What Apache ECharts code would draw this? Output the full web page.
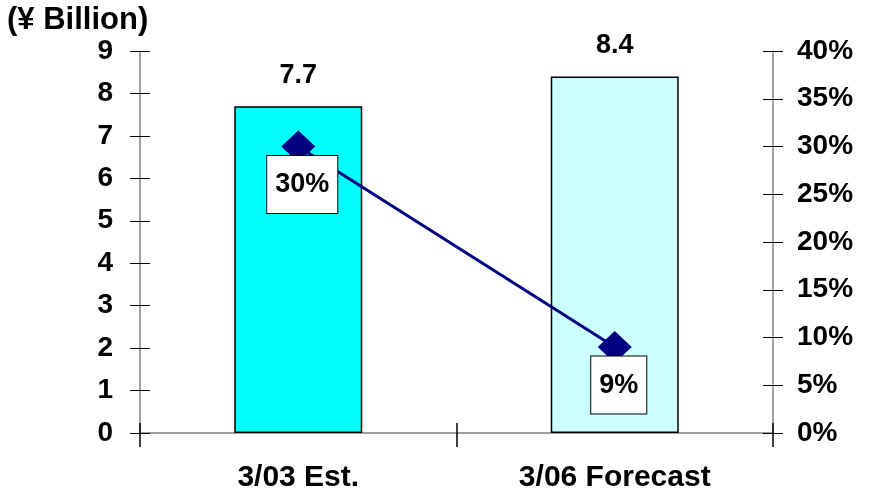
<!DOCTYPE html>
<html>
<head>
<meta charset="utf-8">
<script src="https://cdn.jsdelivr.net/npm/echarts@6/dist/echarts.min.js"></script>
<style>
    html, body { margin: 0; padding: 0; background: #fff; }
    #chart { width: 875px; height: 497px; }
</style>
</head>
<body>
<div id="chart"></div>
<script>
// 数据
const categories = ['3/03 Est.', '3/06 Forecast'];
const salesValues = [7.7, 8.4];
const shareValues = [30, 9];
const barColors = ['#00FFFF', '#CCFFFF'];

const font = 'Liberation Sans, Arial, sans-serif';
const labelStyle = {
    color: '#000',
    fontSize: 28,
    fontWeight: 'bold',
    fontFamily: font
};

const eChart = echarts.init(document.getElementById('chart'));
const option = {
    animation: false,
    grid: {
        left: 140,
        right: 102,
        top: 51,
        bottom: 64
    },
    graphic: [
        {
            type: 'text',
            left: 7,
            top: 5,
            style: {
                text: '(¥ Billion)',
                fill: '#000',
                font: 'bold 31px ' + font
            }
        }
    ],
    xAxis: [
        {
            type: 'category',
            data: categories,
            axisLine: { lineStyle: { color: '#808080', width: 1.5 } },
            axisTick: { show: true, interval: 0, length: 14, lineStyle: { color: '#000', width: 1.5 } },
            axisLabel: Object.assign({}, labelStyle, { margin: 30, fontSize: 30 })
        },
        {
            // 刻度穿过轴线
            type: 'category',
            data: categories,
            position: 'bottom',
            axisLine: { show: false },
            axisTick: { show: true, interval: 0, inside: true, length: 10, lineStyle: { color: '#000', width: 1.5 } },
            axisLabel: { show: false }
        }
    ],
    yAxis: [
        {
            type: 'value',
            min: 0,
            max: 9,
            interval: 1,
            splitLine: { show: false },
            axisLine: { show: true, lineStyle: { color: '#808080', width: 1.5 } },
            axisTick: { show: true, length: 10, lineStyle: { color: '#000' } },
            axisLabel: Object.assign({}, labelStyle, { margin: 27 })
        },
        {
            type: 'value',
            min: 0,
            max: 40,
            interval: 5,
            position: 'right',
            splitLine: { show: false },
            axisLine: { show: true, lineStyle: { color: '#808080', width: 1.5 } },
            axisTick: { show: true, length: 10, lineStyle: { color: '#000' } },
            axisLabel: Object.assign({}, labelStyle, { margin: 24, formatter: '{value}%' })
        },
        {
            type: 'value',
            min: 0,
            max: 9,
            interval: 1,
            position: 'left',
            splitLine: { show: false },
            axisLine: { show: false },
            axisTick: { show: true, inside: true, length: 10, lineStyle: { color: '#000' } },
            axisLabel: { show: false }
        },
        {
            type: 'value',
            min: 0,
            max: 40,
            interval: 5,
            position: 'right',
            splitLine: { show: false },
            axisLine: { show: false },
            axisTick: { show: true, inside: true, length: 10, lineStyle: { color: '#000' } },
            axisLabel: { show: false }
        }
    ],
    series: [
        {
            name: 'Sales',
            type: 'bar',
            barWidth: 128,
            data: salesValues.map((v, i) => ({
                value: v,
                itemStyle: { color: barColors[i] }
            })),
            itemStyle: {
                borderColor: '#000',
                borderWidth: 1.5
            },
            label: Object.assign({}, labelStyle, {
                show: true,
                position: 'top',
                distance: 17,
                fontSize: 27
            })
        },
        {
            name: 'Market Share',
            type: 'line',
            yAxisIndex: 1,
            data: shareValues,
            symbol: 'diamond',
            symbolSize: [34, 32],
            z: 5,
            lineStyle: { color: '#000080', width: 3 },
            itemStyle: { color: '#000080' },
            label: Object.assign({}, labelStyle, {
                show: true,
                position: 'inside',
                offset: [4, 38],
                fontSize: 27,
                formatter: '{c}%',
                backgroundColor: '#fff',
                borderColor: '#000',
                borderWidth: 1,
                padding: [15, 8]
            })
        }
    ]
};
eChart.setOption(option);
</script>
</body>
</html>
